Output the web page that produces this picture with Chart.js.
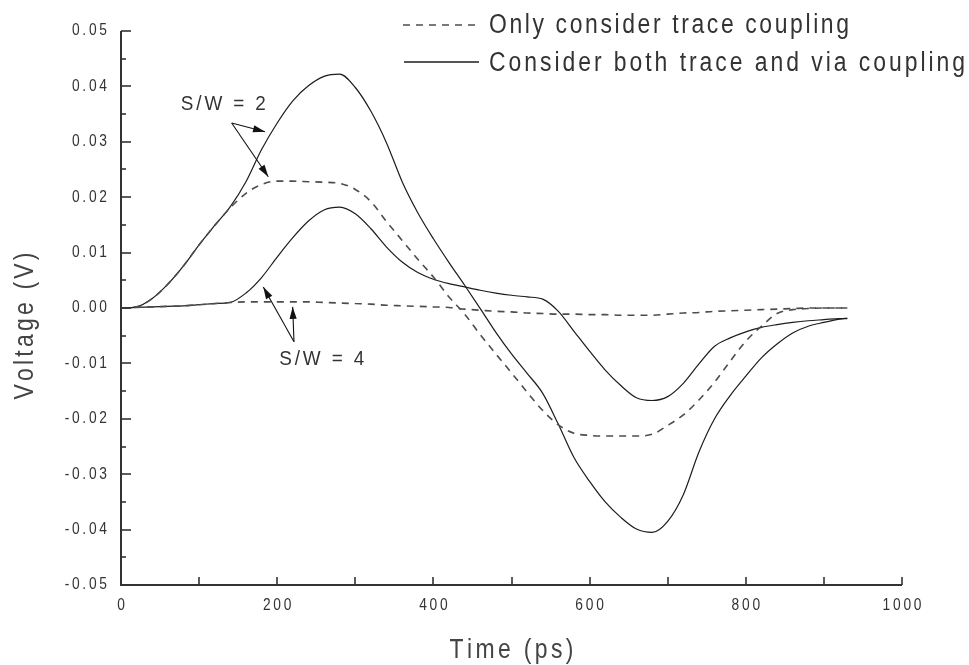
<!DOCTYPE html>
<html><head><meta charset="utf-8">
<script src="https://cdn.jsdelivr.net/npm/chart.js@4.4.1/dist/chart.umd.min.js"></script>
<style>html,body{margin:0;padding:0;background:#fff;}#wrap{width:969px;height:665px;position:relative;}</style>
</head><body><div id="wrap"><canvas id="c" width="969" height="665"></canvas></div>
<script>
// ---- data (time in ps, voltage in V) ----
const timePs = [0,20,40,60,80,100,120,140,160,180,200,220,240,260,280,300,320,340,360,380,400,420,440,460,480,500,520,540,560,580,600,620,640,660,680,700,720,740,760,780,800,820,840,860,880,900,920,930];
// S/W = 2, trace + via coupling (solid)
const sw2Both = [0,0.0002,0.0017,0.0043,0.0076,0.0114,0.0149,0.0183,0.0228,0.0286,0.0334,0.0374,0.0401,0.0418,0.0422,0.0398,0.0355,0.0298,0.0228,0.0172,0.0125,0.0082,0.0041,-0.0001,-0.0044,-0.0083,-0.0118,-0.0154,-0.0210,-0.0270,-0.0313,-0.0350,-0.0378,-0.0399,-0.0405,-0.0385,-0.0337,-0.0260,-0.0200,-0.0158,-0.0123,-0.0090,-0.0065,-0.0045,-0.0033,-0.0026,-0.0020,-0.0018];
// S/W = 2, trace coupling only (dashed)
const sw2Trace = [0,0.0002,0.0017,0.0043,0.0076,0.0114,0.0149,0.0181,0.0207,0.0223,0.0229,0.0229,0.0228,0.0227,0.0225,0.0214,0.0192,0.0156,0.0122,0.0088,0.0056,0.0020,-0.0011,-0.0048,-0.0083,-0.0117,-0.0152,-0.0185,-0.0211,-0.0226,-0.0230,-0.0231,-0.0231,-0.0231,-0.0228,-0.0212,-0.0193,-0.0166,-0.0134,-0.0096,-0.0060,-0.0033,-0.0010,-0.0003,-0.0001,0,0,0];
// S/W = 4, trace + via coupling (solid)
const sw4Both = [0,0.0001,0.0002,0.0003,0.0004,0.0006,0.0008,0.0010,0.0027,0.0055,0.0092,0.0127,0.0157,0.0177,0.0182,0.0170,0.0143,0.0110,0.0083,0.0064,0.0052,0.0044,0.0038,0.0032,0.0027,0.0023,0.0020,0.0016,-0.0006,-0.0042,-0.0078,-0.0112,-0.0140,-0.0162,-0.0167,-0.0160,-0.0136,-0.0101,-0.0069,-0.0054,-0.0043,-0.0035,-0.0030,-0.0026,-0.0023,-0.0021,-0.0019,-0.0019];
// S/W = 4, trace coupling only (dashed)
const sw4Trace = [0,0.0001,0.0002,0.0003,0.0004,0.0006,0.0008,0.0010,0.0011,0.0011,0.0011,0.0011,0.0011,0.0010,0.0009,0.0008,0.0007,0.0005,0.0004,0.0003,0.0002,0.0001,-0.0002,-0.0004,-0.0006,-0.0007,-0.0009,-0.0010,-0.0011,-0.0011,-0.0012,-0.0012,-0.0013,-0.0013,-0.0013,-0.0011,-0.0009,-0.0008,-0.0006,-0.0005,-0.0004,-0.0003,-0.0002,-0.0001,0,0,0,0];

const yTickValues = [0.05,0.04,0.03,0.02,0.01,0.00,-0.01,-0.02,-0.03,-0.04,-0.05];
const xTickValues = [0,200,400,600,800,1000];
const legendLabels = ['Only consider trace coupling','Consider both trace and via coupling'];
const xTitle = 'Time (ps)';
const yTitle = 'Voltage (V)';
const noteLabels = ['S/W = 2','S/W = 4'];

// annotation anchors in data units
const notes = [
  {text: noteLabels[0], at:[131, 0.0368], from:[141.7, 0.0334], tips:[[184.4,0.0318],[188.6,0.0237]]},
  {text: noteLabels[1], at:[257, -0.0092], from:[221.5,-0.0061], tips:[[182.2,0.0038],[219.8,0.0002]]}
];

const SOLID = '#1c1c1c', DASHED = '#4d4d4d', TXT = '#333';
const pts = arr => timePs.map((t,i)=>({x:t,y:arr[i]}));

function drawSpaced(ctx, text, x, y, o){
  ctx.save();
  ctx.font = o.font; ctx.fillStyle = o.color || TXT;
  ctx.textBaseline = o.baseline || 'middle'; ctx.textAlign = 'left';
  const chars = [...text];
  const ws = chars.map(c=>ctx.measureText(c).width);
  const raw = ws.reduce((a,b)=>a+b,0);
  const sx = o.scaleX || 1;
  let sp = o.spacing || 0;
  if (o.width) sp = (o.width/sx - raw)/(chars.length-1);
  const total = (raw + sp*(chars.length-1))*sx;
  ctx.translate(x,y);
  if (o.rotate) ctx.rotate(o.rotate);
  let start = 0;
  if (o.align==='center') start = -total/2; else if (o.align==='right') start = -total;
  ctx.translate(start,0); ctx.scale(sx,1);
  let cur = 0;
  chars.forEach((c,i)=>{ ctx.fillText(c,cur,0); cur += ws[i]+sp; });
  ctx.restore();
}

function arrowHead(ctx, x0,y0,x1,y1){
  const a = Math.atan2(y1-y0,x1-x0), L=12, W=3.6;
  ctx.beginPath();
  ctx.moveTo(x1,y1);
  ctx.lineTo(x1-L*Math.cos(a)+W*Math.sin(a), y1-L*Math.sin(a)-W*Math.cos(a));
  ctx.lineTo(x1-L*Math.cos(a)-W*Math.sin(a), y1-L*Math.sin(a)+W*Math.cos(a));
  ctx.closePath(); ctx.fill();
}

const FONT = '"Liberation Sans", Arial, sans-serif';
const decor = {
  id:'decor',
  afterDraw(chart){
    const ctx = chart.ctx, xs = chart.scales.x, ys = chart.scales.y, ca = chart.chartArea;
    ctx.save();
    // axes
    ctx.strokeStyle = '#333'; ctx.lineWidth = 2;
    ctx.beginPath(); ctx.moveTo(ca.left, ca.top); ctx.lineTo(ca.left, ca.bottom); ctx.lineTo(ca.right, ca.bottom); ctx.stroke();
    ctx.lineWidth = 1.6;
    for (let k=-10;k<=10;k++){
      const v = k*0.005, py = Math.round(ys.getPixelForValue(v));
      const len = (k%2===0)?10:5;
      ctx.beginPath(); ctx.moveTo(ca.left,py); ctx.lineTo(ca.left+len,py); ctx.stroke();
    }
    for (let t=100;t<=1000;t+=100){
      const px = Math.round(xs.getPixelForValue(t));
      ctx.beginPath(); ctx.moveTo(px,ca.bottom); ctx.lineTo(px,ca.bottom-8); ctx.stroke();
    }
    ctx.restore();
    // tick labels
    yTickValues.forEach(v=>{
      drawSpaced(ctx, v.toFixed(2), ca.left-14, ys.getPixelForValue(v), {font:'16px '+FONT, spacing:3.2, align:'right', scaleX:0.86});
    });
    xTickValues.forEach(t=>{
      drawSpaced(ctx, String(t), xs.getPixelForValue(t), ca.bottom+21, {font:'16px '+FONT, spacing:3.2, align:'center', scaleX:0.86});
    });
    // titles
    drawSpaced(ctx, xTitle, (ca.left+ca.right)/2, 658, {font:'27px '+FONT, width:124, align:'center', baseline:'alphabetic', scaleX:0.85, color:'#444'});
    drawSpaced(ctx, yTitle, 33, 326, {font:'27px '+FONT, width:147, align:'center', baseline:'alphabetic', scaleX:0.85, rotate:-Math.PI/2, color:'#444'});
    // legend
    ctx.save();
    ctx.lineWidth = 1.6; ctx.strokeStyle = DASHED; ctx.setLineDash([7,6]);
    ctx.beginPath(); ctx.moveTo(403,25); ctx.lineTo(479,25); ctx.stroke();
    ctx.setLineDash([]); ctx.strokeStyle = SOLID; ctx.lineWidth = 1.4;
    ctx.beginPath(); ctx.moveTo(404,62); ctx.lineTo(479,62); ctx.stroke();
    ctx.restore();
    drawSpaced(ctx, legendLabels[0], 489, 33, {font:'27px '+FONT, width:360, baseline:'alphabetic', scaleX:0.85});
    drawSpaced(ctx, legendLabels[1], 489, 71, {font:'27px '+FONT, width:476, baseline:'alphabetic', scaleX:0.85});
    // annotations
    ctx.save();
    ctx.strokeStyle = '#111'; ctx.fillStyle = '#111'; ctx.lineWidth = 1.1;
    notes.forEach(n=>{
      drawSpaced(ctx, n.text, xs.getPixelForValue(n.at[0]), ys.getPixelForValue(n.at[1]), {font:'21px '+FONT, width:85, align:'center', scaleX:0.9});
      const fx = xs.getPixelForValue(n.from[0]), fy = ys.getPixelForValue(n.from[1]);
      n.tips.forEach(tp=>{
        const tx = xs.getPixelForValue(tp[0]), ty = ys.getPixelForValue(tp[1]);
        ctx.beginPath(); ctx.moveTo(fx,fy); ctx.lineTo(tx,ty); ctx.stroke();
        arrowHead(ctx,fx,fy,tx,ty);
      });
    });
    ctx.restore();
  }
};

new Chart(document.getElementById('c'), {
  type:'scatter',
  data:{ datasets:[
    {label:legendLabels[0], data:pts(sw2Trace), borderColor:DASHED, borderWidth:1.6, borderDash:[7,6]},
    {label:legendLabels[0], data:pts(sw4Trace), borderColor:DASHED, borderWidth:1.6, borderDash:[7,6]},
    {label:legendLabels[1], data:pts(sw2Both), borderColor:SOLID, borderWidth:1.2},
    {label:legendLabels[1], data:pts(sw4Both), borderColor:SOLID, borderWidth:1.2}
  ]},
  options:{
    responsive:false, animation:false, devicePixelRatio:1,
    showLine:true,
    datasets:{scatter:{showLine:true, pointRadius:0, cubicInterpolationMode:'monotone', fill:false}},
    layout:{padding:{left:121, right:67, top:31, bottom:80}},
    plugins:{legend:{display:false}, tooltip:{enabled:false}},
    scales:{
      x:{type:'linear', min:0, max:1000, display:false},
      y:{type:'linear', min:-0.05, max:0.05, display:false}
    }
  },
  plugins:[decor]
});
</script></body></html>
